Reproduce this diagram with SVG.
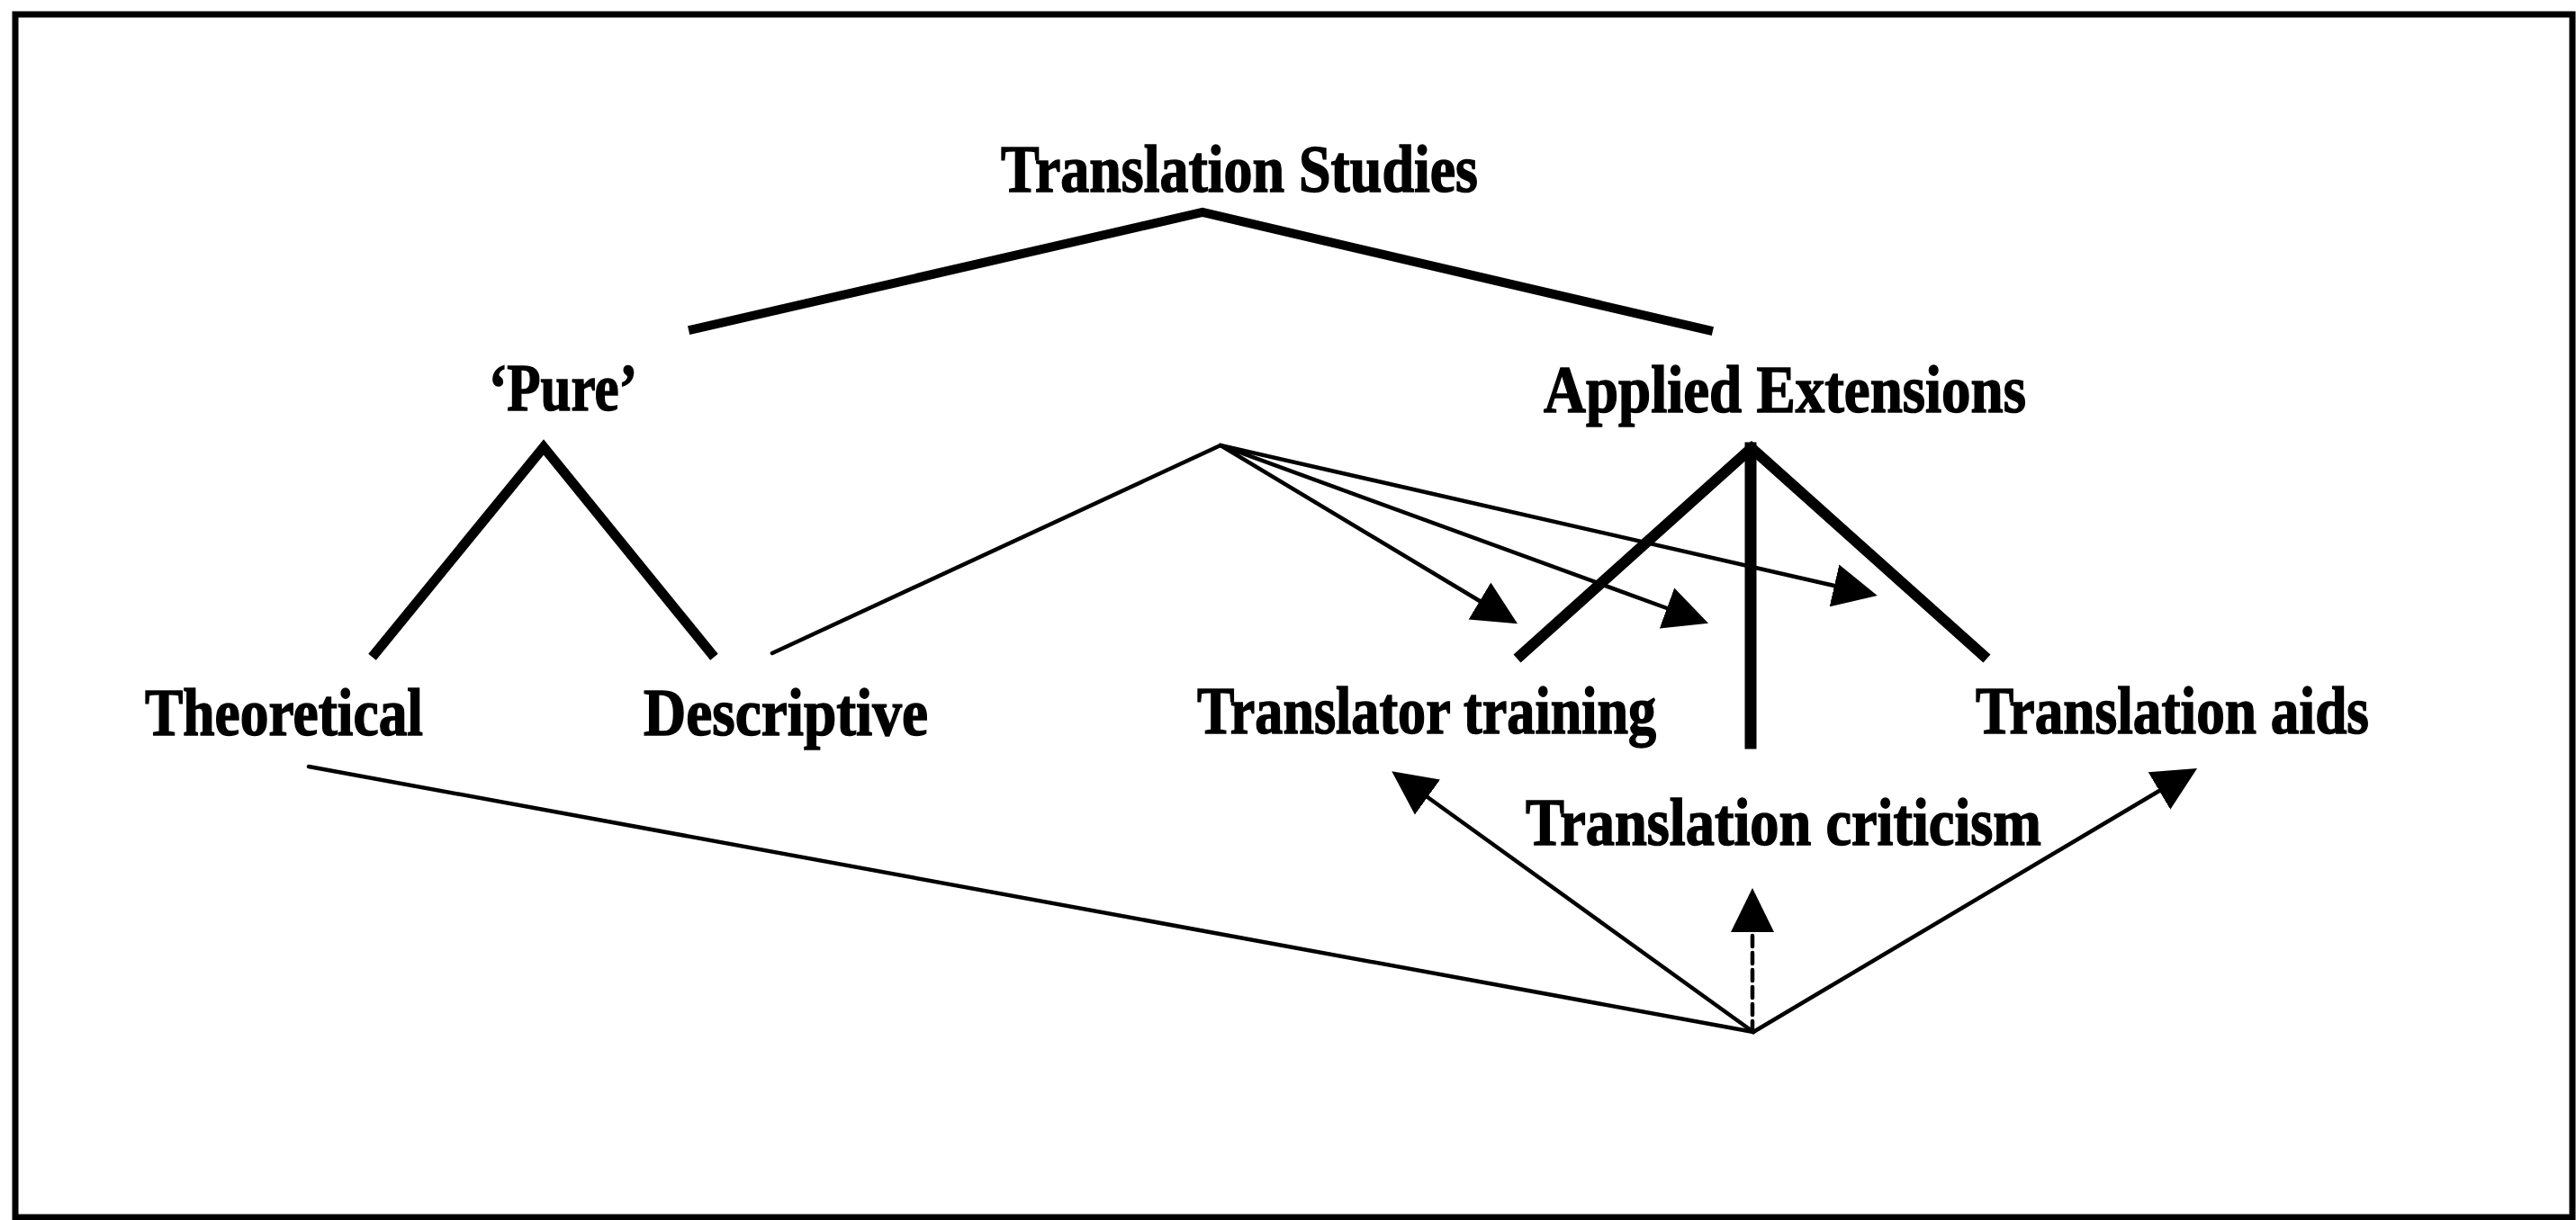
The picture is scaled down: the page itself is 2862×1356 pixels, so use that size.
<svg xmlns="http://www.w3.org/2000/svg" width="2862" height="1356" viewBox="0 0 2862 1356">
  <style>
    .lbl { font-family: "Liberation Serif", "Times New Roman", serif; font-weight: bold; font-size: 74px; fill: #000; stroke: #000; stroke-width: 1.5; }
    .thick { fill: none; stroke: #000; stroke-linecap: square; stroke-linejoin: miter; }
    .thin { fill: none; stroke: #000; stroke-width: 4.5; stroke-linecap: round; }
    .dash { stroke-dasharray: 12 7; }
  </style>
  <defs>
    <marker id="head" markerUnits="userSpaceOnUse" markerWidth="50" markerHeight="50" refX="0" refY="24" orient="auto" viewBox="0 0 50 48">
      <path d="M0,0 L49,24 L0,48 Z" fill="#000"/>
    </marker>
  </defs>
  <rect x="17" y="16" width="2841" height="1337" fill="#fff" stroke="#000" stroke-width="7"/>

  <g id="n-translation-studies">
    <text class="lbl" x="1112" y="213" textLength="530" lengthAdjust="spacingAndGlyphs">Translation Studies</text>
  </g>
  <g id="n-pure">
    <text class="lbl" x="543" y="456" textLength="165" lengthAdjust="spacingAndGlyphs">‘Pure’</text>
  </g>
  <g id="n-applied">
    <text class="lbl" x="1715" y="458" textLength="536" lengthAdjust="spacingAndGlyphs">Applied Extensions</text>
  </g>
  <g id="n-theoretical">
    <text class="lbl" x="161" y="817" textLength="309" lengthAdjust="spacingAndGlyphs">Theoretical</text>
  </g>
  <g id="n-descriptive">
    <text class="lbl" x="715" y="817" textLength="316" lengthAdjust="spacingAndGlyphs">Descriptive</text>
  </g>
  <g id="n-translator-training">
    <text class="lbl" x="1330" y="815" textLength="510" lengthAdjust="spacingAndGlyphs">Translator training</text>
  </g>
  <g id="n-translation-aids">
    <text class="lbl" x="2195" y="815" textLength="437" lengthAdjust="spacingAndGlyphs">Translation aids</text>
  </g>
  <g id="n-translation-criticism">
    <text class="lbl" x="1695" y="939" textLength="573" lengthAdjust="spacingAndGlyphs">Translation criticism</text>
  </g>

  <g id="connectors">
    <!-- tree branches -->
    <polyline class="thick" stroke-width="10" points="770,366 1336,236 1898,367"/>
    <polyline class="thick" stroke-width="11" points="417,726 604,497 790,726"/>
    <polyline class="thick" stroke-width="12" points="1690,728 1946,498 2203,728"/>
    <line class="thick" stroke-width="13" x1="1945" y1="498" x2="1945" y2="826"/>
    <!-- thin relations from upper point -->
    <line class="thin" x1="858" y1="726" x2="1356" y2="495"/>
    <line class="thin" x1="1356" y1="495" x2="1644" y2="668" marker-end="url(#head)"/>
    <line class="thin" x1="1356" y1="495" x2="1852" y2="676" marker-end="url(#head)"/>
    <line class="thin" x1="1356" y1="495" x2="2038" y2="651" marker-end="url(#head)"/>
    <!-- thin relations from lower point -->
    <line class="thin" x1="343" y1="852" x2="1948" y2="1147"/>
    <line class="thin" x1="1948" y1="1147" x2="1586" y2="886" marker-end="url(#head)"/>
    <line class="thin dash" x1="1947" y1="1147" x2="1947" y2="1036" marker-end="url(#head)"/>
    <line class="thin" x1="1948" y1="1147" x2="2399" y2="879" marker-end="url(#head)"/>
  </g>
</svg>
